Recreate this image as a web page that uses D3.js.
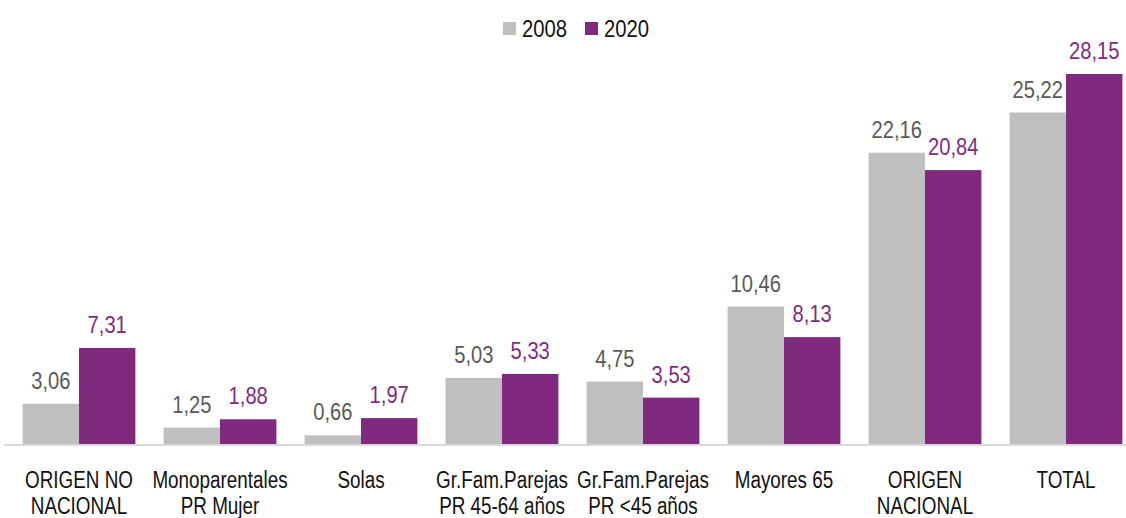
<!DOCTYPE html>
<html>
<head>
<meta charset="utf-8">
<script src="https://cdn.jsdelivr.net/npm/d3@7"></script>
<style>
  body { margin: 0; background: #fff; }
  svg text { font-family: "Liberation Sans Narrow", "Arial Narrow", "Liberation Sans", sans-serif; }
</style>
</head>
<body>
<svg id="chart"></svg>
<script>
// 数据
const categories = [
    ["ORIGEN NO", "NACIONAL"],
    ["Monoparentales", "PR Mujer"],
    ["Solas"],
    ["Gr.Fam.Parejas", "PR 45-64 años"],
    ["Gr.Fam.Parejas", "PR <45 años"],
    ["Mayores 65"],
    ["ORIGEN", "NACIONAL"],
    ["TOTAL"]
];
const seriesNames = ["2008", "2020"];
const values2008 = [3.06, 1.25, 0.66, 5.03, 4.75, 10.46, 22.16, 25.22];
const values2020 = [7.31, 1.88, 1.97, 5.33, 3.53, 8.13, 20.84, 28.15];

const width = 1126;
const height = 518;
const baseY = 444;
const barColors = ["#bfbfbf", "#7f2a7f"];
const labelColors = ["#595959", "#7f2a7f"];
const narrow = 0.84; // 字体压缩比例 (没有窄体字体)

const svg = d3.select("#chart")
    .attr("width", width)
    .attr("height", height);

const x = d3.scaleBand()
    .domain(d3.range(categories.length))
    .range([8.5, 1136.5])
    .paddingInner(0.2)
    .paddingOuter(0.1);

const xs = d3.scaleBand()
    .domain(seriesNames)
    .range([0, x.bandwidth()]);

const y = d3.scaleLinear()
    .domain([0, 28.15])
    .range([baseY, 74]);

// 柱子和数值标签
const series = [values2008, values2020];
series.forEach((vals, si) => {
    svg.selectAll(".bar-" + si)
        .data(vals)
        .enter()
        .append("rect")
        .attr("x", (d, i) => x(i) + xs(seriesNames[si]))
        .attr("y", d => y(d))
        .attr("width", xs.bandwidth())
        .attr("height", d => y(0) - y(d))
        .attr("fill", barColors[si]);

    svg.selectAll(".lbl-" + si)
        .data(vals)
        .enter()
        .append("text")
        .attr("transform", (d, i) =>
            `translate(${x(i) + xs(seriesNames[si]) + xs.bandwidth() / 2},${y(d) - 15}) scale(${narrow},1)`)
        .attr("text-anchor", "middle")
        .attr("font-size", "24px")
        .attr("fill", labelColors[si])
        .text(d => d3.format(".2f")(d).replace(".", ","));
});

// 基线
svg.append("line")
    .attr("x1", 4)
    .attr("x2", width)
    .attr("y1", baseY + 1)
    .attr("y2", baseY + 1)
    .attr("stroke", "#d9d9d9")
    .attr("stroke-width", 2);

// 类别标签
categories.forEach((lines, i) => {
    lines.forEach((l, j) => {
        svg.append("text")
            .attr("transform", `translate(${x(i) + x.bandwidth() / 2},${488 + j * 26}) scale(0.82,1)`)
            .attr("text-anchor", "middle")
            .attr("font-size", "23px")
            .attr("fill", "#111")
            .text(l);
    });
});

// 图例
const legendX = [503, 585];
seriesNames.forEach((name, si) => {
    svg.append("rect")
        .attr("x", legendX[si])
        .attr("y", 22)
        .attr("width", 13)
        .attr("height", 13)
        .attr("fill", barColors[si]);
    svg.append("text")
        .attr("transform", `translate(${legendX[si] + 19},37) scale(0.88,1)`)
        .attr("font-size", "23px")
        .attr("fill", "#111")
        .text(name);
});
</script>
</body>
</html>
